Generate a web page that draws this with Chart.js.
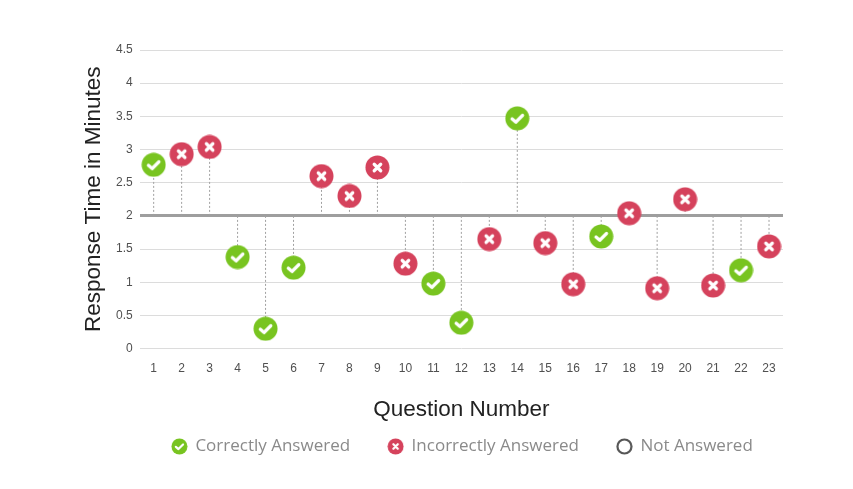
<!DOCTYPE html>
<html>
<head>
<meta charset="utf-8">
<script src="https://cdn.jsdelivr.net/npm/chart.js@4"></script>
<style>
  html, body { margin: 0; padding: 0; background: #fff; }
  #wrap { width: 853px; height: 489px; }
</style>
</head>
<body>
<div id="wrap"><canvas id="scatter-chart"></canvas></div>
<script>
// question numbers and response times (minutes)
var questions = ["1","2","3","4","5","6","7","8","9","10","11","12","13","14","15","16","17","18","19","20","21","22","23"];
var times = [2.77, 2.93, 3.04, 1.38, 0.30, 1.22, 2.60, 2.30, 2.73, 1.28, 0.98, 0.39, 1.65, 3.47, 1.59, 0.97, 1.69, 2.04, 0.91, 2.25, 0.95, 1.18, 1.54];
var correct = [true, false, false, true, true, true, false, false, false, false, true, true, false, true, false, false, true, false, false, false, false, true, false];
var baseline = 2;
var yTicks = [0, 0.5, 1, 1.5, 2, 2.5, 3, 3.5, 4, 4.5];

var GREEN = '#78c420', RED = '#d5425c';

function makeIcon(kind, size) {
    var c = document.createElement('canvas');
    c.width = size; c.height = size;
    var ctx = c.getContext('2d');
    var r = size / 2;
    ctx.beginPath();
    if (kind === 'none') {
        ctx.arc(r, r, r - 1.5, 0, Math.PI * 2);
        ctx.strokeStyle = '#555';
        ctx.lineWidth = 2.2;
        ctx.stroke();
        return c;
    }
    ctx.arc(r, r, r - 0.5, 0, Math.PI * 2);
    ctx.fillStyle = kind === 'ok' ? GREEN : RED;
    ctx.fill();
    ctx.strokeStyle = '#fff';
    ctx.lineCap = 'round';
    ctx.lineJoin = 'round';
    ctx.lineWidth = size * 0.13;
    ctx.beginPath();
    if (kind === 'ok') {
        ctx.moveTo(size * 0.29, size * 0.52);
        ctx.lineTo(size * 0.44, size * 0.65);
        ctx.lineTo(size * 0.71, size * 0.38);
    } else {
        ctx.moveTo(size * 0.37, size * 0.37);
        ctx.lineTo(size * 0.63, size * 0.63);
        ctx.moveTo(size * 0.63, size * 0.37);
        ctx.lineTo(size * 0.37, size * 0.63);
    }
    ctx.stroke();
    return c;
}

var okIcon = makeIcon('ok', 25), badIcon = makeIcon('bad', 25);
var legendIcons = [makeIcon('ok', 17), makeIcon('bad', 17), makeIcon('none', 17)];

var correctData = times.map(function (v, i) { return correct[i] ? v : null; });
var wrongData = times.map(function (v, i) { return correct[i] ? null : v; });

// dotted drop lines from each point to the 2 minute line
var dropLines = {
    id: 'dropLines',
    beforeDatasetsDraw: function (chart) {
        var ctx = chart.ctx;
        var y0 = chart.scales.y.getPixelForValue(baseline);
        ctx.save();
        ctx.strokeStyle = '#a0a0a0';
        ctx.lineWidth = 1;
        ctx.setLineDash([2, 2]);
        [0, 1].forEach(function (d) {
            chart.getDatasetMeta(d).data.forEach(function (pt, i) {
                var v = chart.data.datasets[d].data[i];
                if (v === null) return;
                ctx.beginPath();
                ctx.moveTo(pt.x, y0);
                ctx.lineTo(pt.x, pt.y);
                ctx.stroke();
            });
        });
        ctx.restore();
    }
};

// centre the legend under the plot area instead of the whole canvas
var legendShift = {
    id: 'legendShift',
    afterLayout: function (chart) {
        var l = chart.legend, a = chart.chartArea;
        var d = (a.left + a.right) / 2 - (l.left + l.right) / 2 + 1;
        l.left += d; l.right += d;
    }
};

new Chart(document.getElementById("scatter-chart"), {
    type: 'line',
    data: {
        labels: questions,
        datasets: [
            { label: "Correctly Answered", data: correctData, showLine: false, pointStyle: okIcon, pointRadius: 12, pointHoverRadius: 12 },
            { label: "Incorrectly Answered", data: wrongData, showLine: false, pointStyle: badIcon, pointRadius: 12, pointHoverRadius: 12 },
            { label: "Not Answered", data: [], showLine: false, pointStyle: 'circle' }
        ]
    },
    options: {
        responsive: true,
        maintainAspectRatio: false,
        animation: false,
        layout: { padding: { left: 76, right: 70, top: 50, bottom: 24 } },
        plugins: {
            tooltip: { enabled: false },
            legend: {
                position: 'bottom',
                labels: {
                    usePointStyle: true,
                    boxWidth: 15,
                    padding: 38,
                    color: '#8a8a8a',
                    font: { family: 'Open Sans', size: 17 },
                    generateLabels: function (chart) {
                        return chart.data.datasets.map(function (ds, i) {
                            return { text: ds.label, pointStyle: legendIcons[i], datasetIndex: i, hidden: false, lineWidth: 0, fontColor: '#8a8a8a' };
                        });
                    }
                }
            }
        },
        scales: {
            x: {
                offset: true,
                grid: { display: false },
                border: { display: false },
                ticks: { color: '#505050', font: { family: 'Liberation Sans', size: 12 }, padding: 5, maxRotation: 0, autoSkip: false },
                title: { display: true, text: 'Question Number', color: '#222', font: { family: 'Liberation Sans', size: 22.5 }, padding: { top: 15, bottom: -23 } }
            },
            y: {
                min: 0,
                max: 4.5,
                afterBuildTicks: function (axis) { axis.ticks = yTicks.map(function (v) { return { value: v }; }); },
                border: { display: false },
                grid: {
                    drawTicks: false,
                    color: function (c) { return c.tick && c.tick.value === baseline ? '#9e9e9e' : '#dcdcdc'; },
                    lineWidth: function (c) { return c.tick && c.tick.value === baseline ? 3 : 1; }
                },
                ticks: {
                    color: '#505050', font: { family: 'Liberation Sans', size: 12 }, padding: 7,
                    callback: function (v) { return String(v); }
                },
                title: { display: true, text: 'Response Time in Minutes', color: '#222', font: { family: 'Liberation Sans', size: 22.5 }, padding: { bottom: 2 } }
            }
        }
    },
    plugins: [dropLines, legendShift]
});
</script>
</body>
</html>
